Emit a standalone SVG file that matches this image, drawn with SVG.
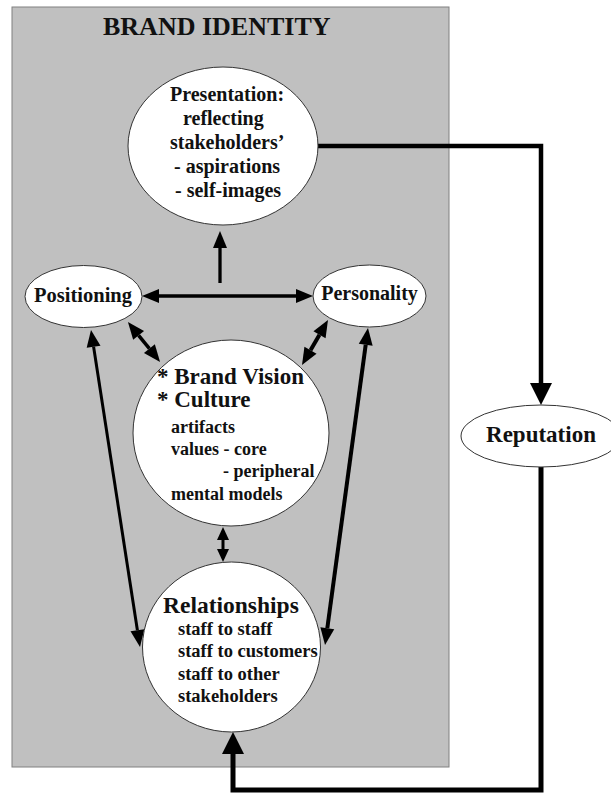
<svg xmlns="http://www.w3.org/2000/svg" width="611" height="794" viewBox="0 0 611 794">
  <style>
    .node { fill: #ffffff; stroke: #333333; stroke-width: 1; }
    .t { font-family: "Liberation Serif", "Times New Roman", serif; font-weight: bold; fill: #111111; }
    .c { fill: none; stroke: #000000; stroke-linejoin: miter; stroke-linecap: butt; }
  </style>
  <defs>
    <marker id="m1" viewBox="0 -8 18 16" markerWidth="18" markerHeight="16" refX="0" refY="0" markerUnits="userSpaceOnUse" orient="auto-start-reverse" overflow="visible">
      <path d="M0,-7 L17,0 L0,7 z" fill="#000"/>
    </marker>
    <marker id="m2" viewBox="0 -12 23 24" markerWidth="23" markerHeight="24" refX="0" refY="0" markerUnits="userSpaceOnUse" orient="auto-start-reverse" overflow="visible">
      <path d="M0,-11 L22,0 L0,11 z" fill="#000"/>
    </marker>
    <marker id="m3" viewBox="0 -7 14 14" markerWidth="14" markerHeight="14" refX="0" refY="0" markerUnits="userSpaceOnUse" orient="auto-start-reverse" overflow="visible">
      <path d="M0,-6 L13,0 L0,6 z" fill="#000"/>
    </marker>
  </defs>

  <rect id="brand-identity-frame" x="12" y="7" width="437" height="760" fill="#c0c0c0" stroke="#808080" stroke-width="1"/>
  <text class="t" x="103" y="35" font-size="26">BRAND IDENTITY</text>

  <g id="connectors">
    <path class="c" d="M317,146 H541 V383" stroke-width="4.5" marker-end="url(#m2)"/>
    <path class="c" d="M541,467 V790 H233 V754" stroke-width="5" marker-end="url(#m2)"/>
    <line class="c" x1="220" y1="283" x2="220" y2="248" stroke-width="3.3" marker-end="url(#m1)"/>
    <line class="c" x1="159" y1="296" x2="296" y2="296" stroke-width="3.5" marker-start="url(#m1)" marker-end="url(#m1)"/>
    <line class="c" x1="138.6" y1="335.3" x2="149.4" y2="348.7" stroke-width="3.5" marker-start="url(#m1)" marker-end="url(#m1)"/>
    <line class="c" x1="319.5" y1="334.7" x2="310.5" y2="350.3" stroke-width="4" marker-start="url(#m1)" marker-end="url(#m1)"/>
    <line class="c" x1="93.6" y1="346.8" x2="137.4" y2="630.2" stroke-width="3" marker-start="url(#m1)" marker-end="url(#m1)"/>
    <line class="c" x1="365.7" y1="344.8" x2="327.3" y2="628.2" stroke-width="4" marker-start="url(#m1)" marker-end="url(#m1)"/>
    <line class="c" x1="223" y1="540" x2="223" y2="549" stroke-width="3" marker-start="url(#m3)" marker-end="url(#m3)"/>
  </g>

  <g id="presentation">
    <ellipse class="node" cx="223" cy="146" rx="95" ry="79"/>
    <text class="t" font-size="20">
      <tspan x="170" y="101">Presentation:</tspan>
      <tspan x="183" y="125">reflecting</tspan>
      <tspan x="170" y="149">stakeholders’</tspan>
      <tspan x="174" y="173">- aspirations</tspan>
      <tspan x="175" y="197">- self-images</tspan>
    </text>
  </g>

  <g id="positioning">
    <ellipse class="node" cx="83.5" cy="296.5" rx="58.5" ry="31"/>
    <text class="t" x="83" y="302" font-size="20.5" text-anchor="middle">Positioning</text>
  </g>

  <g id="personality">
    <ellipse class="node" cx="369.5" cy="296" rx="56.5" ry="31"/>
    <text class="t" x="369.5" y="300" font-size="20" text-anchor="middle">Personality</text>
  </g>

  <g id="brand-vision-culture">
    <ellipse class="node" cx="231" cy="433" rx="98" ry="93"/>
    <text class="t" font-size="23">
      <tspan x="157" y="384">* Brand Vision</tspan>
      <tspan x="157" y="407">* Culture</tspan>
    </text>
    <text class="t" font-size="18">
      <tspan x="171" y="433">artifacts</tspan>
      <tspan x="171" y="455">values - core</tspan>
      <tspan x="223" y="477">- peripheral</tspan>
      <tspan x="171" y="500">mental models</tspan>
    </text>
  </g>

  <g id="relationships">
    <ellipse class="node" cx="231.5" cy="647" rx="89" ry="85"/>
    <text class="t" x="163" y="613" font-size="23.5">Relationships</text>
    <text class="t" font-size="18.5">
      <tspan x="178" y="635">staff to staff</tspan>
      <tspan x="178" y="657">staff to customers</tspan>
      <tspan x="178" y="680">staff to other</tspan>
      <tspan x="178" y="702">stakeholders</tspan>
    </text>
  </g>

  <g id="reputation">
    <ellipse class="node" cx="541" cy="436" rx="80" ry="31"/>
    <text class="t" x="541" y="442" font-size="23" text-anchor="middle">Reputation</text>
  </g>
</svg>
